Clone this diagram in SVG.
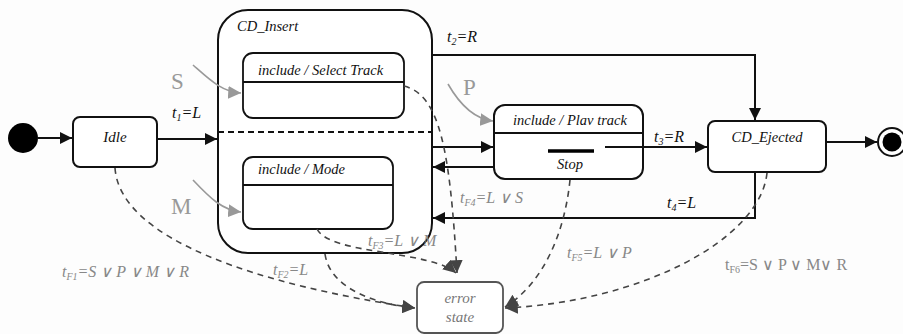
<svg xmlns="http://www.w3.org/2000/svg" width="903" height="334" viewBox="0 0 903 334">
  <style>
    .state { fill: #fff; stroke: #111; stroke-width: 2; }
    .sub { fill: #fff; stroke: #111; stroke-width: 1.8; }
    .line { fill: none; stroke: #111; stroke-width: 2; }
    .dash { fill: none; stroke: #444; stroke-width: 1.6; stroke-dasharray: 6 5; }
    .gray { fill: none; stroke: #999; stroke-width: 1.6; }
  </style>
  <defs>
    <marker id="arr" viewBox="0 0 10 10" refX="10" refY="5" markerWidth="6" markerHeight="6" orient="auto" markerUnits="strokeWidth">
      <path d="M0,0 L10,5 L0,10 z" fill="#111"/>
    </marker>
    <marker id="darr" viewBox="0 0 10 10" refX="10" refY="5" markerWidth="8" markerHeight="8" orient="auto" markerUnits="strokeWidth">
      <path d="M0,0 L10,5 L0,10 z" fill="#444"/>
    </marker>
    <marker id="garr" viewBox="0 0 10 10" refX="10" refY="5" markerWidth="8" markerHeight="8" orient="auto" markerUnits="strokeWidth">
      <path d="M0,0 L10,5 L0,10 z" fill="#999"/>
    </marker>
  </defs>
  <rect width="903" height="334" fill="#fdfdfd"/>

  <!-- nodes -->
  <g id="initial">
    <circle cx="23" cy="138" r="15" fill="#000"/>
  </g>
  <g font-family="Liberation Serif" font-style="italic" font-size="14.5" fill="#111">
    <g id="idle">
      <rect class="state" x="73" y="117" width="84" height="50" rx="7"/>
      <text x="115" y="142" text-anchor="middle" font-size="15">Idle</text>
    </g>
    <g id="cd-insert">
      <rect class="state" x="218" y="10" width="214" height="243" rx="30"/>
      <text x="237" y="31">CD_Insert</text>
      <line x1="218" y1="132" x2="432" y2="132" stroke="#111" stroke-width="2" stroke-dasharray="6 4"/>
    </g>
    <g id="select-track">
      <rect class="sub" x="243" y="53" width="161" height="65" rx="10"/>
      <line x1="243" y1="82" x2="404" y2="82" stroke="#111" stroke-width="1.8"/>
      <text x="258" y="75">include / Select Track</text>
    </g>
    <g id="mode">
      <rect class="sub" x="243" y="157" width="150" height="72" rx="10"/>
      <line x1="243" y1="185" x2="393" y2="185" stroke="#111" stroke-width="1.8"/>
      <text x="258" y="174">include / Mode</text>
    </g>
    <g id="play-track">
      <rect class="state" x="494" y="105" width="149" height="74" rx="11"/>
      <line x1="494" y1="133" x2="643" y2="133" stroke="#111" stroke-width="1.8"/>
      <text x="570" y="125" text-anchor="middle">include / Plav track</text>
      <line x1="548" y1="151" x2="594" y2="151" stroke="#000" stroke-width="3.5"/>
      <text x="570" y="169" text-anchor="middle">Stop</text>
    </g>
    <g id="cd-ejected">
      <rect class="state" x="708" y="121" width="118" height="51" rx="7"/>
      <text x="767" y="142" text-anchor="middle">CD_Ejected</text>
    </g>
    <g id="error-state">
      <rect x="417" y="282" width="86" height="51" rx="7" fill="#fff" stroke="#555" stroke-width="1.8"/>
      <text x="460" y="303" text-anchor="middle" font-size="15" fill="#777">error</text>
      <text x="460" y="322" text-anchor="middle" font-size="15" fill="#777">state</text>
    </g>
  </g>
  <g id="final">
    <circle cx="892" cy="142" r="14" fill="#fff" stroke="#111" stroke-width="2"/>
    <circle cx="892" cy="142" r="9.5" fill="#000"/>
  </g>

  <!-- connectors -->
  <g id="connectors">
    <line class="line" x1="38" y1="138" x2="72" y2="138" marker-end="url(#arr)"/>
    <line class="line" x1="157" y1="139" x2="217" y2="139" marker-end="url(#arr)"/>
    <polyline class="line" points="432,55 755,55 755,120" marker-end="url(#arr)"/>
    <line class="line" x1="432" y1="147" x2="493" y2="147" marker-end="url(#arr)"/>
    <line class="line" x1="494" y1="167" x2="433" y2="167" marker-end="url(#arr)"/>
    <line class="line" x1="605" y1="147" x2="707" y2="147" marker-end="url(#arr)"/>
    <polyline class="line" points="755,172 755,218 433,218" marker-end="url(#arr)"/>
    <line class="line" x1="826" y1="142" x2="877" y2="142" marker-end="url(#arr)"/>

    <!-- event arrows -->
    <path class="gray" d="M193,65 C210,80 222,92 241,93" marker-end="url(#garr)"/>
    <path class="gray" d="M193,180 C210,198 222,210 241,212" marker-end="url(#garr)"/>
    <path class="gray" d="M448,84 C460,105 475,119 493,121" marker-end="url(#garr)"/>

    <!-- error transitions -->
    <path class="dash" d="M115,168 C120,240 260,285 415,308" marker-end="url(#darr)"/>
    <path class="dash" d="M325,254 C330,290 380,305 415,308" marker-end="url(#darr)"/>
    <path class="dash" d="M317,229 C330,255 430,250 456,273" marker-end="url(#darr)"/>
    <path class="dash" d="M404,86 C440,95 450,150 457,273" marker-end="url(#darr)"/>
    <path class="dash" d="M570,180 C565,230 545,282 505,307" marker-end="url(#darr)"/>
    <path class="dash" d="M767,173 C760,240 640,302 505,308" marker-end="url(#darr)"/>
  </g>

  <!-- labels -->
  <g font-family="Liberation Serif" font-size="23" fill="#999">
    <text x="171" y="89">S</text>
    <text x="171" y="214">M</text>
    <text x="463" y="95">P</text>
  </g>
  <g font-family="Liberation Serif" font-style="italic" font-size="16" fill="#111">
    <text x="172" y="118">t<tspan font-size="10" dy="3">1</tspan><tspan dy="-3">=L</tspan></text>
    <text x="447" y="42">t<tspan font-size="10" dy="3">2</tspan><tspan dy="-3">=R</tspan></text>
    <text x="654" y="142">t<tspan font-size="10" dy="3">3</tspan><tspan dy="-3">=R</tspan></text>
    <text x="667" y="208">t<tspan font-size="10" dy="3">4</tspan><tspan dy="-3">=L</tspan></text>
  </g>
  <g font-family="Liberation Serif" font-style="italic" font-size="16" fill="#888">
    <text x="62" y="277">t<tspan font-size="10" dy="3">F1</tspan><tspan dy="-3">=S ∨ P ∨ M ∨ R</tspan></text>
    <text x="273" y="275">t<tspan font-size="10" dy="3">F2</tspan><tspan dy="-3">=L</tspan></text>
    <text x="368" y="246">t<tspan font-size="10" dy="3">F3</tspan><tspan dy="-3">=L ∨ M</tspan></text>
    <text x="460" y="203">t<tspan font-size="10" dy="3">F4</tspan><tspan dy="-3">=L ∨ S</tspan></text>
    <text x="567" y="258">t<tspan font-size="10" dy="3">F5</tspan><tspan dy="-3">=L ∨ P</tspan></text>
    <text x="725" y="270" font-style="normal">t<tspan font-size="10" dy="3">F6</tspan><tspan dy="-3">=S ∨ P ∨ M∨ R</tspan></text>
  </g>
</svg>
